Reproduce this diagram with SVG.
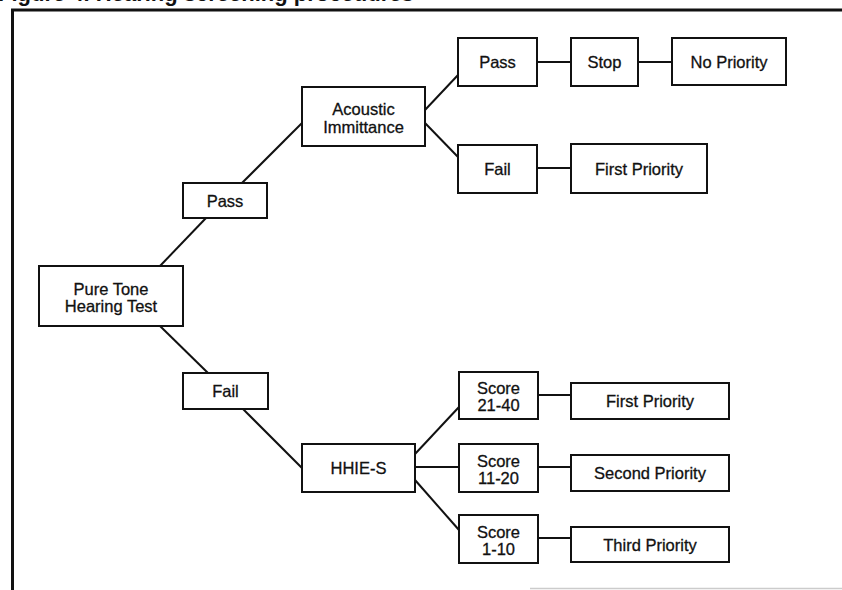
<svg xmlns="http://www.w3.org/2000/svg" width="842" height="590" viewBox="0 0 842 590">
<style>
.box{fill:#fff;stroke:#111;stroke-width:2}
.t{font-family:"Liberation Sans",Arial,sans-serif;font-size:16.5px;fill:#111;stroke:#111;stroke-width:0.3;text-anchor:middle}
.c{stroke:#111;stroke-width:2;fill:none}
.title{font-family:"Liberation Sans",Arial,sans-serif;font-size:22px;font-weight:bold;fill:#111}
</style>
<rect width="842" height="590" fill="#fff"/>
<text class="title" x="-2" y="0.5">Figure 4. Hearing screening procedures</text>
<g id="frame">
<path d="M12.5 590 V10 H842" fill="none" stroke="#111" stroke-width="3"/>
<path d="M530 588.5 H842" fill="none" stroke="#ccc" stroke-width="1.5"/>
</g>
<g id="connectors" class="c">
<line x1="160" y1="266" x2="206" y2="218"/>
<line x1="160" y1="326" x2="208" y2="373"/>
<line x1="242" y1="183" x2="302" y2="123"/>
<line x1="243" y1="409" x2="302" y2="468"/>
<line x1="425" y1="110" x2="458" y2="75"/>
<line x1="425" y1="123" x2="458" y2="157"/>
<line x1="537" y1="62" x2="571" y2="62"/>
<line x1="638" y1="62" x2="672" y2="62"/>
<line x1="537" y1="168" x2="571" y2="168"/>
<line x1="415" y1="454" x2="459" y2="407"/>
<line x1="415" y1="467" x2="459" y2="467"/>
<line x1="415" y1="480" x2="459" y2="530"/>
<line x1="538" y1="395" x2="571" y2="395"/>
<line x1="538" y1="467" x2="571" y2="467"/>
<line x1="538" y1="538" x2="571" y2="538"/>
</g>
<g id="pure-tone"><rect class="box" x="39" y="266" width="144" height="60"/><text class="t" x="111" y="294.5">Pure Tone</text><text class="t" x="111" y="311.5">Hearing Test</text></g>
<g id="pass1"><rect class="box" x="183" y="183" width="84" height="35"/><text class="t" x="225" y="206.5">Pass</text></g>
<g id="fail1"><rect class="box" x="183" y="373" width="85" height="36"/><text class="t" x="225.5" y="397">Fail</text></g>
<g id="acoustic"><rect class="box" x="302" y="87" width="123" height="59"/><text class="t" x="363.5" y="115">Acoustic</text><text class="t" x="363.5" y="132.5">Immittance</text></g>
<g id="pass2"><rect class="box" x="458" y="38" width="79" height="48"/><text class="t" x="497.5" y="68">Pass</text></g>
<g id="stop"><rect class="box" x="571" y="38" width="67" height="48"/><text class="t" x="604.5" y="68">Stop</text></g>
<g id="no-priority"><rect class="box" x="672" y="38" width="114" height="47"/><text class="t" x="729" y="67.5">No Priority</text></g>
<g id="fail2"><rect class="box" x="458" y="145" width="79" height="48"/><text class="t" x="497.5" y="175">Fail</text></g>
<g id="first-priority1"><rect class="box" x="571" y="144" width="136" height="49"/><text class="t" x="639" y="174.5">First Priority</text></g>
<g id="hhies"><rect class="box" x="302" y="444" width="113" height="48"/><text class="t" x="358.5" y="474">HHIE-S</text></g>
<g id="score21"><rect class="box" x="459" y="372" width="79" height="47"/><text class="t" x="498.5" y="394">Score</text><text class="t" x="498.5" y="411">21-40</text></g>
<g id="score11"><rect class="box" x="459" y="444" width="79" height="48"/><text class="t" x="498.5" y="466.5">Score</text><text class="t" x="498.5" y="483.5">11-20</text></g>
<g id="score1"><rect class="box" x="459" y="515" width="79" height="48"/><text class="t" x="498.5" y="537.5">Score</text><text class="t" x="498.5" y="554.5">1-10</text></g>
<g id="first-priority2"><rect class="box" x="571" y="383" width="158" height="36"/><text class="t" x="650" y="407">First Priority</text></g>
<g id="second-priority"><rect class="box" x="571" y="455" width="158" height="36"/><text class="t" x="650" y="479">Second Priority</text></g>
<g id="third-priority"><rect class="box" x="571" y="527" width="158" height="35"/><text class="t" x="650" y="550.5">Third Priority</text></g>
</svg>
